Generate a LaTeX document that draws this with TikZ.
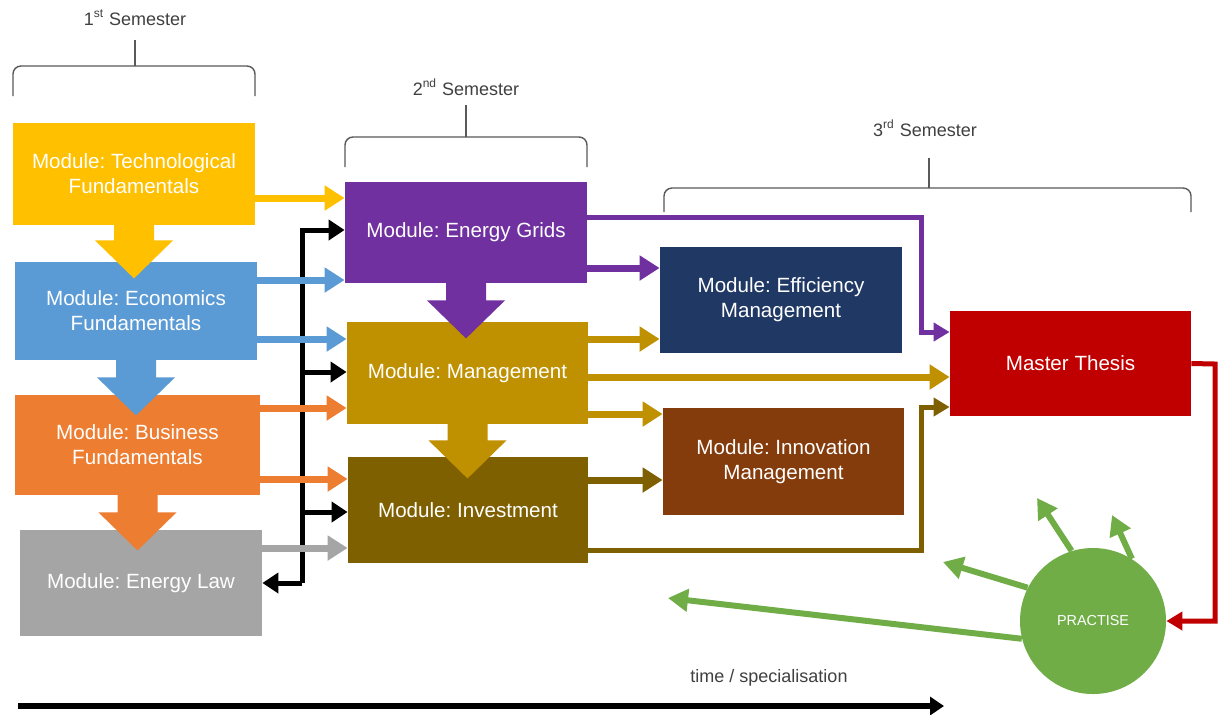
\documentclass[tikz,border=0pt]{standalone}
\usepackage{fontspec}
\setmainfont{Liberation Sans}
\usetikzlibrary{arrows.meta,calc}
\frenchspacing
\definecolor{cTech}{HTML}{FFC000}
\definecolor{cEcon}{HTML}{5B9BD5}
\definecolor{cBus}{HTML}{ED7D31}
\definecolor{cLaw}{HTML}{A5A5A5}
\definecolor{cGrid}{HTML}{7030A0}
\definecolor{cMgmt}{HTML}{BF9000}
\definecolor{cInv}{HTML}{7F6000}
\definecolor{cEff}{HTML}{203864}
\definecolor{cInno}{HTML}{843C0C}
\definecolor{cThes}{HTML}{C00000}
\definecolor{cPrac}{HTML}{70AD47}
\definecolor{cLabel}{HTML}{404040}
\definecolor{cBrace}{HTML}{595959}
\newcommand{\modnode}[7]{\node[modbox, fill=#6, minimum width={(#4-#2)*0.5pt}, minimum height={(#5-#3)*0.5pt}] (#1) at ({(#2+#4)/2},{(#3+#5)/2}) {#7};}
\tikzset{
  modbox/.style={rectangle, inner sep=0pt, align=center, text=white, font=\fontsize{10.3}{12.5}\selectfont},
  semlabel/.style={text=cLabel, font=\fontsize{9}{11}\selectfont, inner sep=0pt},
  brace/.style={draw=cBrace, line width=0.7pt, rounded corners=4pt},
  bracetip/.style={draw=cBrace, line width=0.7pt},
  carr/.style={line width=3.5pt, -{Triangle[length=10pt,width=12pt]}},
  thinarr/.style={line width=2.5pt, -{Triangle[length=8pt,width=9pt]}},
  blkarr/.style={line width=2.5pt, draw=black, -{Triangle[length=8pt,width=10pt]}},
  grarr/.style={line width=3pt, draw=cPrac, -{Triangle[length=10pt,width=11pt]}},
  timearr/.style={line width=3pt, draw=black, -{Triangle[length=7pt,width=9pt]}},
  pics/blockdown/.style n args={2}{code={
    \fill[#1] (-20,-1) -- (-20,{#2-38}) -- (-39,{#2-38}) -- (0,#2) -- (39,{#2-38}) -- (20,{#2-38}) -- (20,-1) -- cycle;}}
}
\begin{document}
\begin{tikzpicture}[x=0.5pt,y=-0.5pt]
\useasboundingbox (0,0) rectangle (1219,714);
\fill[white] (0,0) rectangle (1219,714);

% semester labels and braces
\node[semlabel] (s1) at (135,18) {1\textsuperscript{st} Semester};
\node[semlabel] (s2) at (466,87) {2\textsuperscript{nd} Semester};
\node[semlabel] (s3) at (925,128) {3\textsuperscript{rd} Semester};
\draw[brace] (13,96) |- (135,66);
\draw[brace] (255,96) |- (135,66);
\draw[bracetip] (135,66) -- (135,40);
\draw[brace] (345,167) |- (466,137);
\draw[brace] (587,167) |- (466,137);
\draw[bracetip] (466,137) -- (466,105);
\draw[brace] (664,212) |- (929,188);
\draw[brace] (1191,212) |- (929,188);
\draw[bracetip] (929,188) -- (929,158);

% module boxes
\modnode{tech}{13}{123}{255}{225}{cTech}{Module: Technological\\Fundamentals}
\modnode{econ}{15}{262}{257}{360}{cEcon}{Module: Economics\\Fundamentals}
\modnode{bus}{15}{395}{260}{495}{cBus}{Module: Business\\Fundamentals}
\modnode{law}{20}{530}{262}{636}{cLaw}{Module: Energy Law}
\modnode{grids}{345}{182}{587}{283}{cGrid}{Module: Energy Grids}
\modnode{mgmt}{347}{322}{588}{424}{cMgmt}{Module: Management}
\modnode{invest}{348}{457}{588}{563}{cInv}{Module: Investment}
\modnode{eff}{660}{247}{902}{353}{cEff}{Module: Efficiency\\Management}
\modnode{inno}{663}{408}{904}{515}{cInno}{Module: Innovation\\Management}
\modnode{thesis}{950}{311}{1191}{416}{cThes}{Master Thesis}
\node[circle, fill=cPrac, minimum size=73pt, inner sep=0pt, text=white, font=\fontsize{7.2}{8}\selectfont] (prac) at (1093,621) {PRACTISE};

% block arrows
\pic at (tech.south) {blockdown={cTech}{53}};
\pic at (econ.south) {blockdown={cEcon}{55}};
\pic at (bus.south) {blockdown={cBus}{55}};
\pic at (grids.south) {blockdown={cGrid}{55}};
\pic at (mgmt.south) {blockdown={cMgmt}{54}};

% black distribution connector
\coordinate (bt) at (302,230);
\coordinate (bm) at (302,372);
\coordinate (bi) at (302,512);
\coordinate (bb) at (302,583);
\draw[blkarr] (bb) -- (bt) -- (bt -| grids.west);
\draw[blkarr] (bm) -- (bm -| mgmt.west);
\draw[blkarr] (bi) -- (bi -| invest.west);
\draw[blkarr] (bb) -- (bb -| law.east);

% first column to second column
\draw[carr, draw=cTech] (tech.east |- 0,198) -- (grids.west |- 0,198);
\draw[carr, draw=cEcon] (econ.east |- 0,280) -- (grids.west |- 0,280);
\draw[carr, draw=cEcon] (econ.east |- 0,339) -- (mgmt.west |- 0,339);
\draw[carr, draw=cBus] (bus.east |- 0,408) -- (mgmt.west |- 0,408);
\draw[carr, draw=cBus] (bus.east |- 0,479) -- (invest.west |- 0,479);
\draw[carr, draw=cLaw] (law.east |- 0,548) -- (invest.west |- 0,548);

% second column to third
\draw[thinarr, draw=cGrid] (grids.east |- 0,217) -- (921,217) |- (thesis.west |- 0,332);
\draw[carr, draw=cGrid] (grids.east |- 0,268) -- (eff.west |- 0,268);
\draw[carr, draw=cMgmt] (mgmt.east |- 0,339) -- (eff.west |- 0,339);
\draw[carr, draw=cMgmt] (mgmt.east |- 0,377) -- (thesis.west |- 0,377);
\draw[carr, draw=cMgmt] (mgmt.east |- 0,414) -- (inno.west |- 0,414);
\draw[carr, draw=cInv] (invest.east |- 0,480) -- (inno.west |- 0,480);
\draw[thinarr, draw=cInv] (invest.east |- 0,550) -- (921,550) |- (thesis.west |- 0,407);

% thesis to practise
\draw[thinarr, draw=cThes] (thesis.east) -- (1215,364) |- (prac.east);

% practise outputs
\coordinate (g1) at (1037,498);
\coordinate (g2) at (1112,515);
\coordinate (g3) at (943,562);
\coordinate (g4) at (668,598);
\draw[grarr] (prac.107) -- (g1);
\draw[grarr] (prac.58) -- (g2);
\draw[grarr] (prac.153) -- (g3);
\draw[grarr] (prac.194) -- (g4);

% time axis
\coordinate (t0) at (18,706);
\coordinate (t1) at (944,706);
\draw[timearr] (t0) -- (t1);
\node[semlabel] (tlab) at (769,678) {time / specialisation};
\end{tikzpicture}
\end{document}
